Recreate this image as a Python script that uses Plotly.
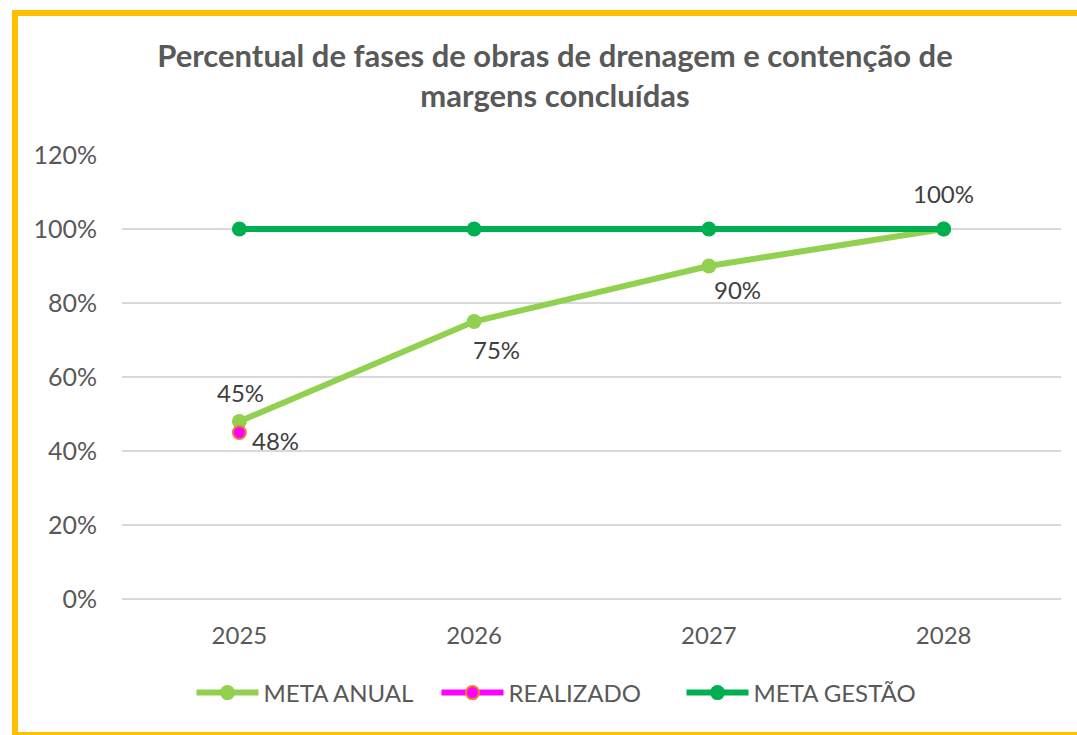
import plotly.graph_objects as go

years = ["2025", "2026", "2027", "2028"]
meta_anual = [0.48, 0.75, 0.90, 1.00]
realizado = [0.45, None, None, None]
meta_gestao = [1.00, 1.00, 1.00, 1.00]

# label offsets (pixels) for data labels
anual_label_shift = [(36, -19), (22, -28), (29, -23), (0, 36)]
realizado_label_shift = [(1, 40), None, None, None]

W, H = 1077, 735
L, R, T, B = 122, 16, 155, 136
PW, PH = W - L - R, H - T - B


def px_x(px):  # reference-image pixel -> paper
    return (px - L) / PW


def px_y(py):
    return (H - B - py) / PH


FONT = "Lato"
TXT = "#595959"
LBL = "#404040"

fig = go.Figure()
fig.add_trace(go.Scatter(
    x=years, y=meta_anual, name="META ANUAL", mode="lines+markers",
    line=dict(color="#92D050", width=6),
    marker=dict(color="#92D050", size=15),
))
fig.add_trace(go.Scatter(
    x=years, y=realizado, name="REALIZADO", mode="lines+markers",
    line=dict(color="#FF00FF", width=6),
    marker=dict(color="#FF00FF", size=13, line=dict(color="#ED7D31", width=2)),
))
fig.add_trace(go.Scatter(
    x=years, y=meta_gestao, name="META GESTÃO", mode="lines+markers",
    line=dict(color="#00B050", width=6),
    marker=dict(color="#00B050", size=15),
))

annotations = []
for i, (v, sh) in enumerate(zip(meta_anual, anual_label_shift)):
    annotations.append(dict(xref="x", yref="y", x=i, y=v, text=f"{round(v*100)}%",
                            showarrow=False, xshift=sh[0], yshift=sh[1],
                            font=dict(family=FONT, size=24, color=LBL)))
for i, (v, sh) in enumerate(zip(realizado, realizado_label_shift)):
    if v is not None:
        annotations.append(dict(xref="x", yref="y", x=i, y=v, text=f"{round(v*100)}%",
                                showarrow=False, xshift=sh[0], yshift=sh[1],
                                font=dict(family=FONT, size=24, color=LBL)))

gold = "#FFC000"
frame_path = (f"M {px_x(15)},{px_y(740)} L {px_x(15)},{px_y(13)} "
              f"L {px_x(1085)},{px_y(13)}")
bottom_path = f"M {px_x(15)},{px_y(733.5)} L {px_x(1085)},{px_y(733.5)}"
shapes = [
    dict(type="path", xref="paper", yref="paper", path=frame_path,
         line=dict(color=gold, width=6), layer="above"),
    dict(type="path", xref="paper", yref="paper", path=bottom_path,
         line=dict(color=gold, width=3), layer="above"),
]

fig.update_layout(
    width=W, height=H,
    margin=dict(l=L, r=R, t=T, b=B, pad=0),
    paper_bgcolor="white", plot_bgcolor="white",
    title=dict(
        text="Percentual de fases de obras de drenagem e contenção de<br>margens concluídas",
        font=dict(family=FONT, size=31, color=TXT, weight="bold"),
        xref="paper", x=px_x(555), xanchor="center",
        yref="container", y=1 - 67 / H, yanchor="middle",
    ),
    xaxis=dict(type="category", range=[-0.5, 3.5], showgrid=False, showline=False,
               zeroline=False, ticks="", ticklabelstandoff=20,
               tickfont=dict(family=FONT, size=24, color=TXT)),
    yaxis=dict(range=[0, 1.2], dtick=0.2, tickformat=".0%", showgrid=True,
               gridcolor="#D9D9D9", gridwidth=2, zeroline=True, zerolinecolor="#D9D9D9",
               zerolinewidth=2, showline=False, ticks="", ticklabelstandoff=24,
               tickfont=dict(family=FONT, size=25, color=TXT)),
    legend=dict(orientation="h", x=px_x(559), xanchor="center", y=px_y(693), yanchor="middle",
                font=dict(family=FONT, size=24, color=TXT), itemwidth=62,
                entrywidth=168, entrywidthmode="pixels",
                bgcolor="rgba(0,0,0,0)"),
    showlegend=True,
    annotations=annotations,
    shapes=shapes,
)

fig.write_html(
    "out.html",
    config={"displayModeBar": False},
    post_script="document.body.style.margin='0';document.body.style.overflow='hidden';",
)
